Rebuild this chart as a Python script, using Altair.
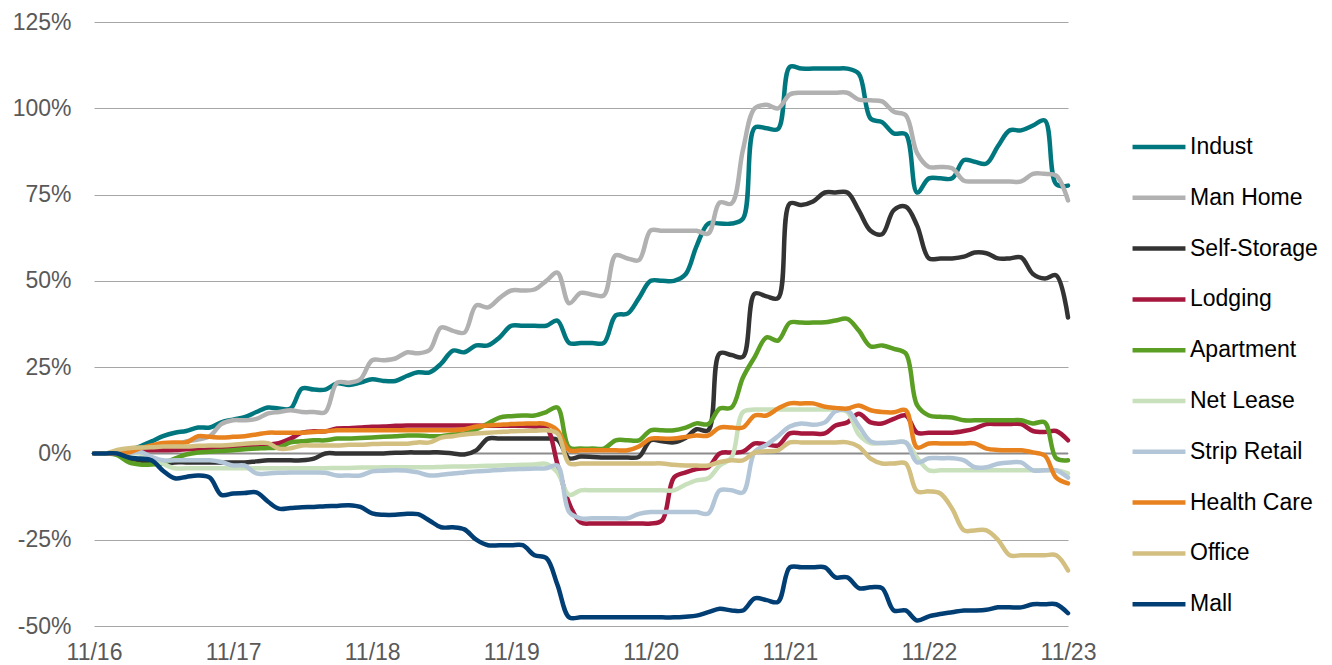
import altair as alt
import pandas as pd

series_names = ["Indust", "Man Home", "Self-Storage", "Lodging", "Apartment",
                "Net Lease", "Strip Retail", "Health Care", "Office", "Mall"]
colors = ["#00777E", "#B1B1B1", "#333333", "#A6173D", "#5A9E23",
          "#C9E0BC", "#B2C6D8", "#E8821E", "#D3BF80", "#003E74"]

indust = [0, 0, 0.5, 1, 2, 3.5, 5, 6, 6.5, 7.5,
          7.5, 9, 9.8, 10.5, 12, 13.3, 13, 13, 18.8, 18.5,
          18.5, 20.3, 19.8, 20.5, 21.5, 21, 21, 22.5, 23.5, 23.5,
          26, 29.8, 29.3, 31.3, 31.3, 33.6, 37, 37, 37, 37,
          38.5, 32, 32, 32, 32, 40, 40.5, 45, 50, 50,
          50, 52, 60, 66.6, 66.6, 66.6, 68, 94.4, 94.2, 94,
          112, 111.5, 111.5, 111.5, 111.5, 111.5, 110, 97, 96, 92.7,
          92.5, 75.6, 79.7, 79.7, 79.7, 85, 84.5, 84, 89, 93.6,
          93.6, 95, 96.5, 78, 77.6]
man_home = [0, 0, 0, 0.5, 1, 1.5, 2, 2.5, 3.5, 4,
            5, 8.5, 9.6, 9.6, 10, 11.6, 12, 12.5, 12, 12,
            12, 20.5, 20.5, 21.5, 27, 27, 27.5, 29.3, 29, 30,
            36.5, 35.5, 35, 42.9, 42.3, 45, 47.2, 47.2, 47.5, 50,
            52.4, 43.5, 46.5, 46, 45.8, 57.4, 56.5, 56, 64.6, 64.5,
            64.5, 64.5, 64.5, 63.7, 72.7, 72.4, 88, 100, 101, 100,
            104, 104.5, 104.5, 104.5, 104.5, 104.5, 102.5, 102.3, 102, 99,
            98, 87, 83, 83, 82.6, 79, 78.8, 78.8, 78.8, 78.8,
            78.8, 81, 81, 80.5, 73.3]
self_storage = [0, 0, 0, -1.4, -2, -2.9, -2.9, -2.6, -2.6, -2.6,
                -2.6, -2.6, -2.6, -2.6, -2.3, -2, -2, -2, -2, -1.5,
                0, 0, 0, 0, 0, 0, 0.2, 0.3, 0.3, 0.3,
                0.3, 0, -0.3, 0.9, 4.3, 4.3, 4.3, 4.3, 4.3, 4.3,
                4, -1.4, -0.9, -1, -1.2, -1.2, -1.2, -1, 3.8, 3.5,
                3.2, 4.5, 7, 6.7, 29, 28.5, 28, 46.3, 45.5, 45,
                72.4, 72, 73, 75.6, 75.6, 75.6, 70.4, 64.5, 63.5, 70.5,
                71.5, 66, 56.5, 56.5, 56.5, 57, 58.2, 58, 56.5, 56.5,
                56.8, 52, 50.7, 51.6, 39.4]
lodging = [0, 0, 0, 0.3, 0.9, 0.9, 0.9, 1, 1.2, 1.2,
           1.4, 1.4, 1.5, 1.8, 2, 2.5, 3, 4.3, 6, 6.4,
           6.4, 7.2, 7.3, 7.5, 7.7, 7.8, 8, 8.1, 8.1, 8.1,
           8.1, 8.1, 8.1, 8.1, 8, 8, 8, 8, 7.8, 7.5,
           -3, -14.5, -20, -20.3, -20.3, -20.3, -20.3, -20.3, -20.3, -19.4,
           -7, -5.5, -4.5, -4, 0, 0.3, 0.5, 2.9, 2.6, 2.3,
           5.8, 5.8, 5.8, 5.8, 8.1, 9, 11.5, 9, 8.7, 10,
           11, 6, 6, 6, 6, 6.5, 7.2, 8.5, 8.5, 8.5,
           8.5, 6.5, 6.2, 6.5, 3.8]
apartment = [0, 0, -0.5, -2.6, -3.2, -3.2, -2.8, -1.5, -0.3, 0.3,
             0.5, 0.7, 0.9, 1.2, 1.4, 1.6, 1.7, 3.2, 3.5, 3.8,
             3.8, 4.3, 4.3, 4.5, 4.6, 4.8, 5, 5.2, 5.2, 5,
             5, 5.5, 5.8, 7, 8.7, 10.4, 10.8, 11, 11, 12,
             13.3, 1.7, 1.4, 1.4, 1.4, 3.8, 3.8, 3.8, 6.7, 6.7,
             6.7, 7.5, 8.7, 8.5, 13, 13.3, 22, 28, 33.6, 32.7,
             37.9, 37.9, 37.9, 38, 38.5, 39, 35.6, 31, 31.3, 30.3,
             29, 14, 11, 10.6, 10.4, 9.6, 9.6, 9.6, 9.6, 9.6,
             9.6, 8.7, 9, -1.4, -2]
net_lease = [0, 0, 0, 0, 0, -1.5, -3, -4.3, -4.3, -4.3,
             -4.3, -4.3, -4.3, -4.3, -4.3, -4.3, -4.3, -4.3, -4.3, -4.3,
             -4.3, -4.2, -4.2, -4.1, -4.1, -4, -4, -4, -4, -4,
             -3.9, -3.8, -3.8, -3.7, -3.6, -3.5, -3.4, -3.3, -3.2, -3,
             -5.5, -12, -10.7, -10.7, -10.7, -10.7, -10.7, -10.7, -10.7, -10.7,
             -10.7, -9, -7.8, -7.2, -3.5, -1.2, 12, 12.7, 12.7, 12.7,
             12.7, 12.7, 12.7, 12.7, 12.7, 12, 5.5, 3, 3, 3.2,
             3.2, -1.2, -4.9, -4.9, -4.9, -4.9, -4.9, -4.9, -4.9, -4.9,
             -4.9, -4.9, -4.9, -4.9, -5.8]
strip_retail = [0, 0, 0, 0, 0.5, -1, -2, -2, -2, -2,
                -2, -2.5, -3.5, -3.5, -5.8, -5.8, -5.6, -5.5, -5.5, -5.5,
                -5.6, -6.4, -6.4, -6.4, -5.2, -5, -4.9, -5, -5.5, -6.4,
                -6.2, -5.8, -5.5, -5.2, -5, -4.8, -4.6, -4.5, -4.4, -4.3,
                -3.5, -17, -18.8, -18.8, -18.8, -18.8, -18.8, -17.5, -17, -17,
                -17, -17, -17, -17.4, -10.7, -10.7, -11.3, 0.5, 2.5, 5,
                7.8, 8.7, 8.3, 9, 12.2, 12.5, 8, 3.5, 3, 3.2,
                3.2, -2.6, -1.4, -1.4, -1.4, -2, -4, -4, -3, -2.6,
                -2.6, -4.9, -4.9, -4.9, -7]
health_care = [0, 0, 0, 0.3, 1.5, 2.3, 3, 3.2, 3.2, 5,
               4.8, 4.6, 4.8, 5, 5.5, 6, 6, 6, 6, 6.2,
               6.4, 6.7, 6.7, 6.7, 6.7, 6.7, 6.7, 6.7, 6.7, 6.7,
               6.7, 6.7, 7, 7.8, 8.1, 8.3, 8.5, 8.6, 8.7, 8.5,
               6.7, 0.9, 0.9, 0.9, 0.9, 0.9, 0.9, 2, 4.3, 4.3,
               4.3, 4.8, 5.2, 5.2, 7.5, 7.5, 7.5, 11, 11, 13,
               14.5, 14.5, 14.5, 13.5, 13.2, 13, 13.9, 12.5, 12, 11.9,
               12.5, 1.7, 2.9, 2.9, 2.9, 2.9, 2.9, 1.4, 1, 0.9,
               0.9, 0.3, -0.6, -7, -8.7]
office = [0, 0, 1, 1.5, 1.7, 1.8, 2, 2, 2, 2.2,
          2.3, 2.3, 2.5, 2.8, 3, 3, 1.4, 1.5, 2.3, 2.3,
          2.3, 2.3, 2.5, 2.5, 2.7, 2.8, 2.8, 2.8, 3.2, 3.2,
          4.6, 5, 5.5, 5.8, 6, 6.2, 6.4, 6.5, 6.6, 6.7,
          5.8, -2.9, -2.9, -2.9, -2.9, -2.9, -2.9, -2.9, -2.9, -2.9,
          -3.3, -3.5, -3.5, -3.5, -2.5, -2, -2, 0.3, 0.6, 0.9,
          3.2, 3.2, 3.2, 3.2, 3.2, 3.2, 2, -1.5, -2.9, -2.9,
          -2.9, -11, -11, -11.6, -16, -22.3, -22.3, -22.3, -25, -29.5,
          -29.5, -29.5, -29.5, -29.5, -33.9]
mall = [0, 0, 0, -1.2, -1.5, -2, -5, -7.2, -6.8, -6.4,
        -7, -12, -11.6, -11.5, -11.3, -14, -16, -15.8, -15.6, -15.5,
        -15.3, -15.2, -15, -15.5, -17.4, -17.8, -17.8, -17.5, -17.6, -19.5,
        -21.4, -21.4, -22, -25, -26.6, -26.6, -26.6, -26.6, -29.5, -30.3,
        -38, -47.5, -47.5, -47.5, -47.5, -47.5, -47.5, -47.5, -47.5, -47.5,
        -47.5, -47.3, -47, -46, -45, -45.5, -45.5, -42, -42.5, -43,
        -33, -33, -33, -33, -35.9, -35.9, -39, -38.8, -39, -45.5,
        -45.5, -48.4, -47.2, -46.5, -46, -45.5, -45.5, -45.3, -44.6, -44.6,
        -44.6, -43.7, -43.7, -43.7, -46.3]

all_values = [indust, man_home, self_storage, lodging, apartment,
              net_lease, strip_retail, health_care, office, mall]

dates = pd.date_range("2016-11-01", periods=85, freq="MS").strftime("%Y-%m-%d").tolist()
tick_years = [2016, 2017, 2018, 2019, 2020, 2021, 2022, 2023]

rows = []
for name, vals in zip(series_names, all_values):
    for d, v in zip(dates, vals):
        rows.append({"date": d, "series": name, "value": v})
df = pd.DataFrame(rows)

FONT = "Liberation Sans"

x_axis = alt.Axis(
    values=[alt.DateTime(year=y, month=11, date=1, utc=True) for y in tick_years],
    labelExpr="utcFormat(datum.value, '%m/%y')", grid=False, domain=False, ticks=False,
    labelFontSize=23, labelColor="#595959", labelFont=FONT, labelPadding=15,
    labelFlush=False, labelOverlap=False, title=None,
)
y_axis = alt.Axis(
    values=[-50, -25, 0, 25, 50, 75, 100, 125], labelExpr="datum.value + '%'",
    grid=True, gridColor="#A6A6A6", gridWidth=1, domain=False, ticks=False,
    labelFontSize=23, labelColor="#595959", labelFont=FONT, labelPadding=23, title=None,
)

lines = alt.Chart(df).mark_line(
    strokeWidth=4.5, interpolate="catmull-rom", strokeCap="round", strokeJoin="round"
).encode(
    x=alt.X("date:T", axis=x_axis,
            scale=alt.Scale(type="utc", domain=[alt.DateTime(year=2016, month=11, date=1, utc=True),
                                                alt.DateTime(year=2023, month=11, date=1, utc=True)])),
    y=alt.Y("value:Q", axis=y_axis, scale=alt.Scale(domain=[-50, 125], nice=False)),
    color=alt.Color("series:N", scale=alt.Scale(domain=series_names, range=colors),
                    legend=alt.Legend(orient="none", legendX=1036, legendY=96, title=None,
                                      symbolType="stroke", symbolSize=2800, symbolStrokeWidth=4.5,
                                      labelFontSize=23, labelFont=FONT, labelColor="#000000",
                                      labelOffset=2, rowPadding=9.8, padding=0)),
)

zero = alt.Chart(pd.DataFrame({"y": [0]})).mark_rule(color="#8C8C8C", strokeWidth=2).encode(y="y:Q")

chart = alt.layer(zero, lines).properties(
    width=974, height=604, autosize="none",
    padding={"left": 86, "top": 14, "right": 250, "bottom": 37},
).configure_view(strokeWidth=0)

chart.save("out.html", embed_options={"renderer": "svg", "actions": False})
